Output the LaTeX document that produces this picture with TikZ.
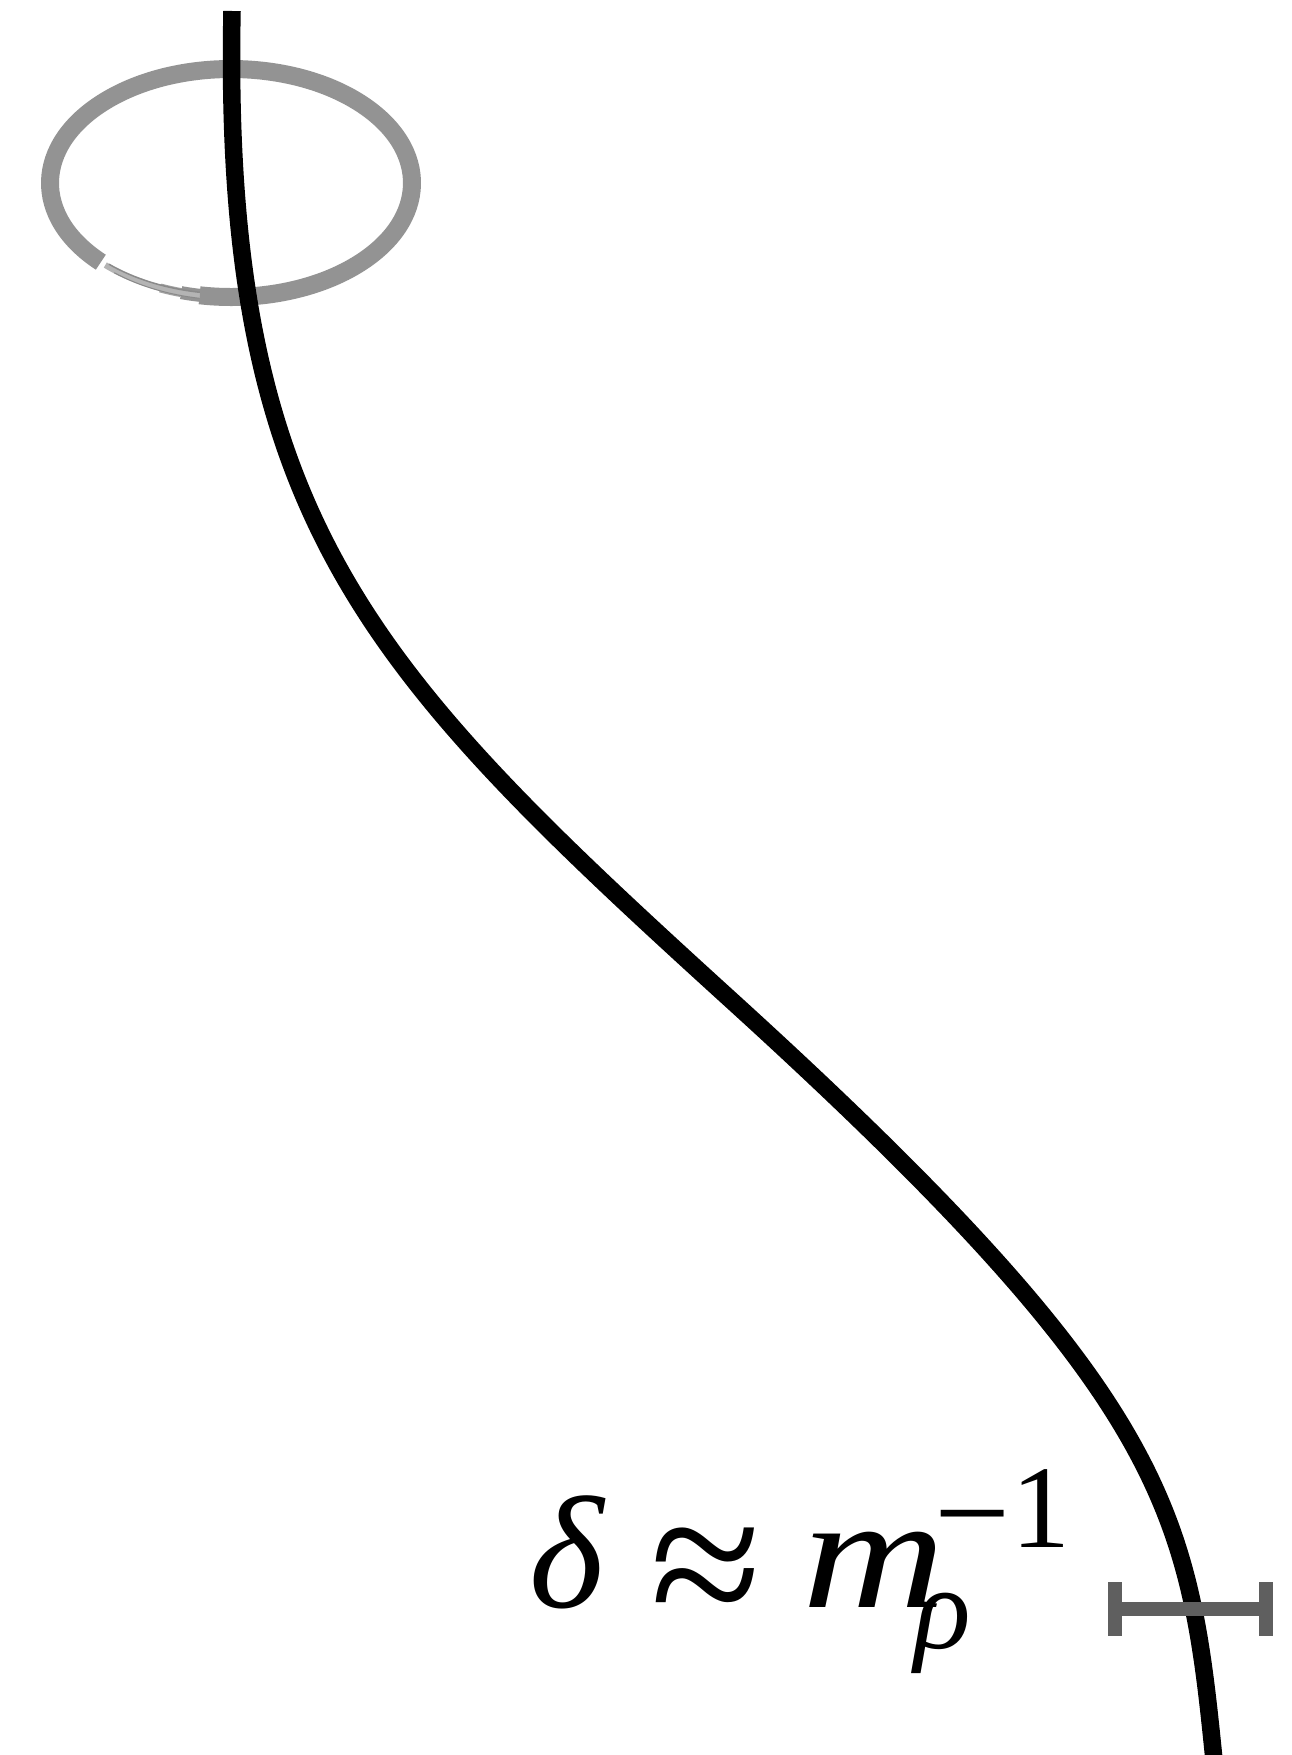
\documentclass[tikz,border=0pt]{standalone}
\usepackage{fontspec}
\setmainfont{Liberation Serif}
\definecolor{loopgray}{HTML}{939393}
\definecolor{thingray}{HTML}{B4B4B4}
\definecolor{thindark}{HTML}{8A8A8A}
\definecolor{barcol}{HTML}{5F5F5F}
\begin{document}
\begin{tikzpicture}[x=1pt,y=-1pt,
  strand/.style={line width=17.5pt, black, line cap=butt},
  loopline/.style={line width=18pt, loopgray, line cap=butt},
  thinloop/.style={line width=6pt, thingray},
  errbar/.style={line width=14pt, barcol, line cap=butt},
  lbl/.style={inner sep=0pt, anchor=base west, font=\fontsize{160}{160}\selectfont},
  lblsmall/.style={inner sep=0pt, anchor=base west, font=\fontsize{118}{118}\selectfont}]
\useasboundingbox (0,0) rectangle (1292,1755);
% loop around the strand
\draw[loopline] (100.8,262.2) arc[start angle=136, end angle=460, x radius=181, y radius=114];
\draw[loopline, line width=13pt] (199.6,295.3) arc[start angle=100, end angle=106, x radius=181, y radius=114];
\draw[loopline, line width=9pt, color=loopgray!85] (181.1,292.6) arc[start angle=106, end angle=113, x radius=181, y radius=114];
\draw[thinloop] (199.6,295.3) arc[start angle=100, end angle=134, x radius=181, y radius=114];
\draw[thindark, line width=1.5pt] (199.9,292.3) arc[start angle=100, end angle=133, x radius=179, y radius=111];
\draw[thindark, line width=1pt] (199.6,298.3) arc[start angle=100, end angle=130, x radius=182, y radius=117];
% strand
\coordinate (top) at (232,11);
\coordinate (mid) at (731,1000);
\coordinate (bottom) at (1214,1760);
\draw[strand] (top) .. controls (222,520) and (368,670) .. (mid)
                    .. controls (1171,1400) and (1189,1510) .. (bottom);
% error bar
\coordinate (barL) at (1115,1609);
\coordinate (barR) at (1266,1609);
\coordinate (capLt) at (1115,1582);
\coordinate (capLb) at (1115,1636);
\coordinate (capRt) at (1266,1582);
\coordinate (capRb) at (1266,1636);
\draw[errbar] (barL) -- (barR);
\draw[errbar] (capLt) -- (capLb);
\draw[errbar] (capRt) -- (capRb);
% label
\node[lbl] (delta) at (529,1607) {\itshape δ};
\node[lbl, font=\fontsize{203}{203}\selectfont] (approx) at (650,1632) {≈};
\node[lbl] (mm) at (802,1607) {\scalebox{1.24}[1]{\itshape m}};
\node[lblsmall] (rho) at (914,1648) {\itshape ρ};
\node[lbl, font=\fontsize{135}{135}\selectfont] (minus) at (934,1558) {−};
\node[lblsmall] (one) at (1011,1547) {1};
\end{tikzpicture}
\end{document}
